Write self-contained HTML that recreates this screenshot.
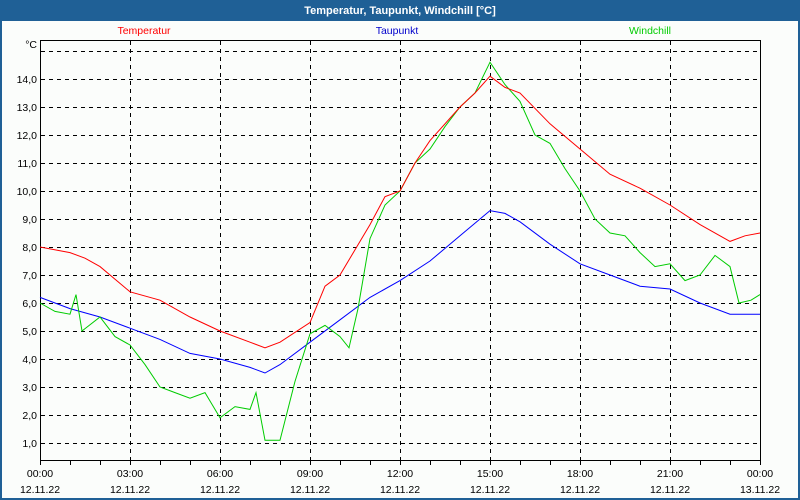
<!DOCTYPE html>
<html><head><meta charset="utf-8"><style>
html,body{margin:0;padding:0;width:800px;height:500px;overflow:hidden;background:#1f6096}
#w{position:absolute;left:0;top:0;width:800px;height:500px}
</style></head><body>
<svg id="w" width="800" height="500" xmlns="http://www.w3.org/2000/svg" font-family="Liberation Sans, sans-serif" font-size="10.5">
<rect x="0" y="0" width="800" height="500" fill="#1f6096"/>
<rect x="2" y="21" width="796" height="477" fill="#fbfdfb"/>
<text x="400" y="14" fill="#fff" font-weight="bold" font-size="11" text-anchor="middle">Temperatur, Taupunkt, Windchill [°C]</text>
<text x="144" y="34" fill="#ff0000" text-anchor="middle">Temperatur</text>
<text x="397" y="34" fill="#0000cc" text-anchor="middle">Taupunkt</text>
<text x="650" y="34" fill="#00cc00" text-anchor="middle">Windchill</text>
<g id="grid" stroke="#000" stroke-width="1" stroke-dasharray="4,4" shape-rendering="crispEdges"></g>
<rect x="40.5" y="40.5" width="720" height="420" fill="none" stroke="#000" stroke-width="1" shape-rendering="crispEdges"/>
<g id="lab" fill="#000" text-anchor="end"></g>
<g id="xl" fill="#000" text-anchor="middle"></g>
<g id="series" fill="none" stroke-width="1"></g>
</svg>
<script>
var ns="http://www.w3.org/2000/svg";
function el(p,t,a,txt){var e=document.createElementNS(ns,t);for(var k in a)e.setAttribute(k,a[k]);if(txt)e.textContent=txt;document.getElementById(p).appendChild(e);}
function Y(v){return 443-(v-1)*28;}
function X(h){return 40+h*30;}
for(var v=1;v<=15;v++){var y=Y(v)+0.5;el("grid","line",{x1:41,x2:760,y1:y,y2:y});if(v<=14)el("lab","text",{x:37,y:Y(v)+4},v+",0");}
el("lab","text",{x:37,y:48},"°C");
var dates=["12.11.22","12.11.22","12.11.22","12.11.22","12.11.22","12.11.22","12.11.22","12.11.22","13.11.22"];
for(var i=0;i<=8;i++){var x=X(i*3)+0.5;if(i>0&&i<8)el("grid","line",{x1:x,x2:x,y1:41,y2:460});
var hh=(i*3)%24;el("xl","text",{x:X(i*3),y:477},(hh<10?"0":"")+hh+":00");el("xl","text",{x:X(i*3),y:493},dates[i]);}
for(var h=0;h<=24;h++){el("series","line",{x1:X(h)+0.5,x2:X(h)+0.5,y1:460,y2:465,stroke:"#000"});}
function poly(pts,c){var s=pts.map(function(p){return X(p[0]).toFixed(1)+","+Y(p[1]).toFixed(1)}).join(" ");el("series","polyline",{points:s,stroke:c});}
poly([[0,6.2],[1,5.8],[2,5.5],[3,5.1],[4,4.7],[5,4.2],[6,4.0],[7,3.7],[7.5,3.5],[8,3.8],[9,4.6],[10,5.4],[11,6.2],[12,6.8],[13,7.5],[14,8.4],[15,9.3],[15.5,9.2],[16,8.9],[17,8.1],[18,7.4],[19,7.0],[20,6.6],[21,6.5],[22,6.0],[23,5.6],[24,5.6]],"#0000ff");
poly([[0,6.0],[0.5,5.7],[1,5.6],[1.2,6.3],[1.4,5.0],[2,5.5],[2.5,4.8],[3,4.5],[3.5,3.8],[4,3.0],[4.5,2.8],[5,2.6],[5.5,2.8],[6,1.9],[6.5,2.3],[7,2.2],[7.2,2.8],[7.5,1.1],[8,1.1],[8.5,3.2],[9,4.9],[9.5,5.2],[10,4.8],[10.3,4.4],[10.6,5.8],[11,8.3],[11.5,9.5],[12,10.0],[12.5,11],[13,11.5],[13.5,12.3],[14,13.0],[14.5,13.5],[15,14.6],[15.5,13.8],[16,13.2],[16.5,12.0],[17,11.7],[17.5,10.8],[18,10.0],[18.5,9.0],[19,8.5],[19.5,8.4],[20,7.8],[20.5,7.3],[21,7.4],[21.5,6.8],[22,7.0],[22.5,7.7],[23,7.3],[23.3,6.0],[23.7,6.1],[24,6.3]],"#00cc00");
poly([[0,8.0],[1,7.8],[1.5,7.6],[2,7.3],[3,6.4],[4,6.1],[5,5.5],[6,5.0],[7,4.6],[7.5,4.4],[8,4.6],[9,5.3],[9.5,6.6],[10,7.0],[11,8.8],[11.5,9.8],[12,10.0],[12.5,11],[13,11.8],[14,13.0],[14.5,13.5],[15,14.1],[15.5,13.7],[16,13.5],[17,12.4],[18,11.5],[19,10.6],[20,10.1],[21,9.5],[22,8.8],[23,8.2],[23.5,8.4],[24,8.5]],"#ff0000");
</script>
</body></html>
